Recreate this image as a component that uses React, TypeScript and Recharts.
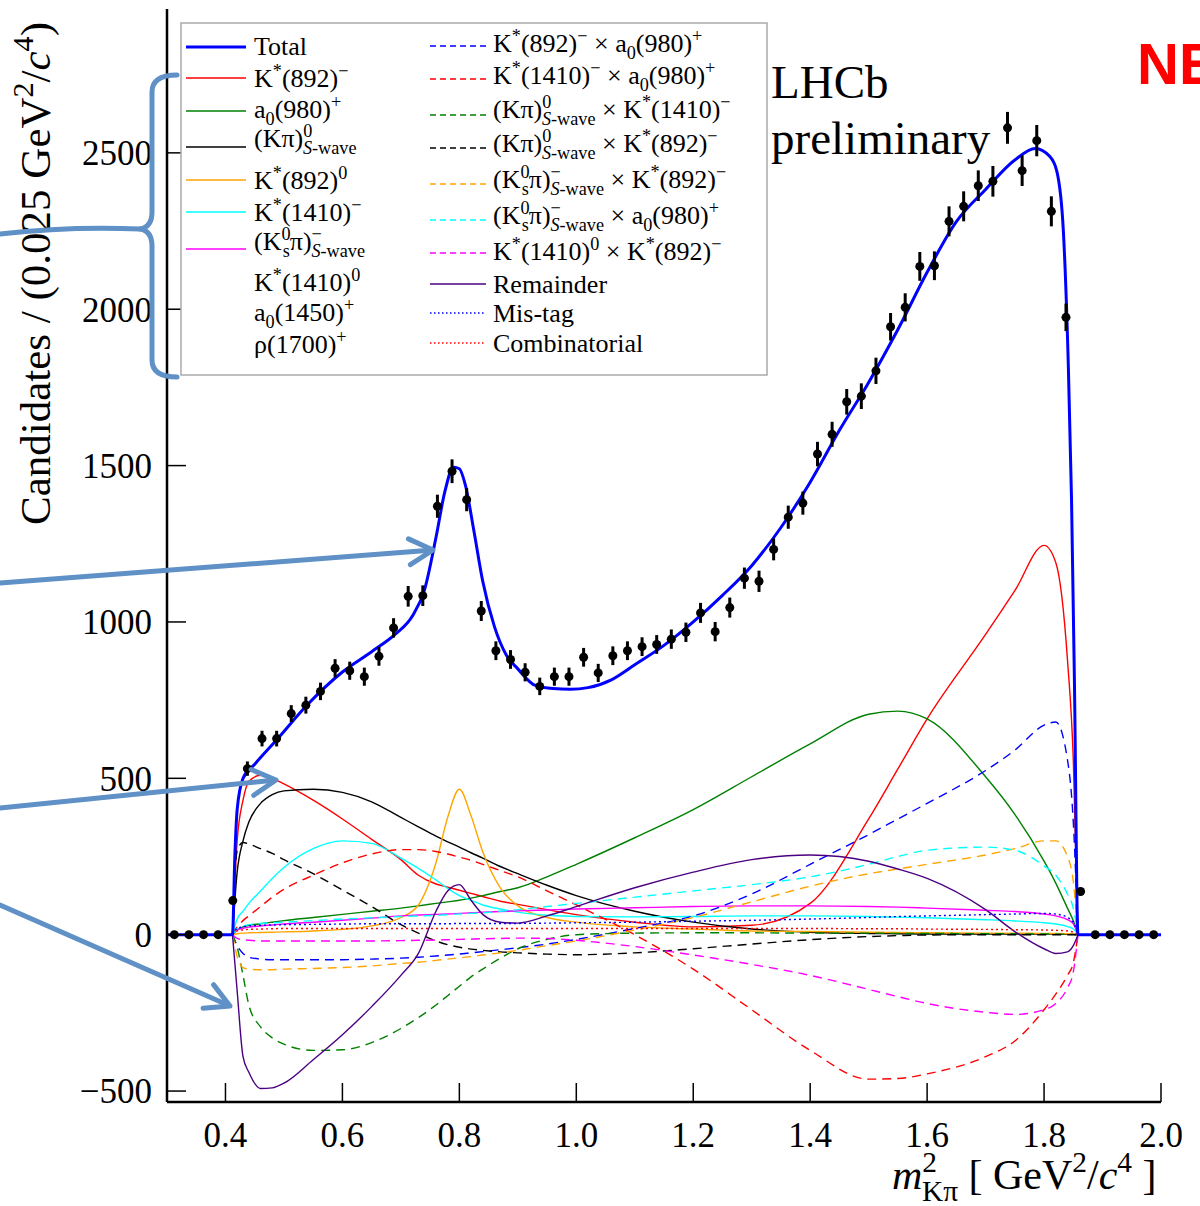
import React from 'react'
import { ComposedChart, Line, Scatter, ErrorBar, XAxis, YAxis } from 'recharts'

// histogram bin centres (m^2 in GeV^2/c^4)
const binCentres = [
  0.3125, 0.3375, 0.3625, 0.3875, 0.4125, 0.4375, 0.4625, 0.4875, 0.5125, 0.5375,
  0.5625, 0.5875, 0.6125, 0.6375, 0.6625, 0.6875, 0.7125, 0.7375, 0.7625, 0.7875,
  0.8125, 0.8375, 0.8625, 0.8875, 0.9125, 0.9375, 0.9625, 0.9875, 1.0125, 1.0375,
  1.0625, 1.0875, 1.1125, 1.1375, 1.1625, 1.1875, 1.2125, 1.2375, 1.2625, 1.2875,
  1.3125, 1.3375, 1.3625, 1.3875, 1.4125, 1.4375, 1.4625, 1.4875, 1.5125, 1.5375,
  1.5625, 1.5875, 1.6125, 1.6375, 1.6625, 1.6875, 1.7125, 1.7375, 1.7625, 1.7875,
  1.8125, 1.8375, 1.8625, 1.8875, 1.9125, 1.9375, 1.9625, 1.9875,
]
const candidates = [
  0, 0, 0, 0, 109, 531, 627, 627, 707, 734,
  778, 852, 844, 825, 890, 981, 1082, 1084, 1370, 1482,
  1391, 1035, 908, 880, 839, 794, 825, 825, 887, 837,
  892, 908, 921, 928, 945, 967, 1029, 969, 1046, 1140,
  1130, 1232, 1335, 1380, 1537, 1600, 1704, 1722, 1803, 1944,
  2006, 2137, 2139, 2281, 2329, 2395, 2409, 2580, 2443, 2539,
  2313, 1974, 138, 0, 0, 0, 0, 0,
]
const candErr = [
  0, 0, 0, 0, 10, 23, 25, 25, 27, 27,
  28, 29, 29, 29, 30, 31, 33, 33, 37, 38,
  37, 32, 30, 30, 29, 28, 29, 29, 30, 29,
  30, 30, 30, 30, 31, 31, 32, 31, 32, 34,
  34, 35, 37, 37, 39, 40, 41, 41, 42, 44,
  45, 46, 46, 48, 48, 49, 49, 51, 49, 50,
  48, 44, 12, 0, 0, 0, 0, 0,
]

// total fit
const totalX = [
  0.3, 0.412, 0.416, 0.42, 0.43, 0.45, 0.49, 0.54, 0.6, 0.65,
  0.69, 0.72, 0.74, 0.76, 0.775, 0.79, 0.8, 0.81, 0.825, 0.84,
  0.86, 0.88, 0.9, 0.93, 0.96, 0.99, 1.02, 1.06, 1.1, 1.15,
  1.2, 1.25, 1.3, 1.35, 1.4, 1.45, 1.5, 1.55, 1.6, 1.65,
  1.7, 1.75, 1.785, 1.81, 1.822, 1.833, 1.8415, 1.847, 1.852, 1.858, 2.0,
]
const totalY = [
  0, 0, 250, 400, 500, 545, 628, 735, 840, 905,
  960, 1020, 1100, 1270, 1415, 1495, 1490, 1440, 1290, 1130,
  985, 895, 850, 797, 787, 785, 790, 815, 863, 925,
  1000, 1085, 1180, 1302, 1447, 1613, 1766, 1935, 2118, 2280,
  2383, 2477, 2514, 2488, 2440, 2250, 1820, 1390, 800, 0, 0,
]

// fit components, all sampled on compX
const compX = [
  0.412, 0.42, 0.43, 0.44, 0.46, 0.48, 0.5, 0.55, 0.6, 0.65,
  0.7, 0.73, 0.76, 0.78, 0.8, 0.82, 0.84, 0.87, 0.9, 0.95,
  1.0, 1.1, 1.2, 1.3, 1.4, 1.5, 1.55, 1.6, 1.7, 1.75,
  1.8, 1.82, 1.84, 1.85, 1.858,
]
const kst892Minus = [
  0, 300, 430, 490, 510, 500, 482, 430, 370, 305,
  240, 190, 162, 152, 142, 132, 122, 107, 97, 80,
  64, 40, 25, 30, 100, 370, 530, 690, 960, 1100,
  1245, 1190, 880, 560, 0,
]
const a0980 = [
  0, 15, 25, 30, 35, 40, 45, 55, 65, 75,
  85, 92, 100, 105, 110, 117, 125, 138, 150, 185,
  225, 310, 400, 505, 610, 705, 715, 690, 505, 385,
  235, 165, 85, 45, 0,
]
const kpiSwave = [
  0, 200, 300, 360, 420, 448, 460, 465, 455, 425,
  375, 345, 315, 297, 280, 262, 245, 218, 195, 158,
  125, 75, 40, 18, 8, 4, 3, 2, 2, 2,
  2, 2, 1, 1, 0,
]
const kst892Zero = [
  0, 3, 5, 6, 7, 8, 9, 12, 17, 28,
  55, 95, 230, 375, 465, 380, 265, 150, 92, 55,
  40, 25, 18, 12, 10, 8, 7, 6, 5, 5,
  4, 4, 3, 2, 0,
]
const kst1410Minus = [
  0, 50, 75, 100, 140, 180, 215, 275, 300, 292,
  245, 212, 175, 148, 125, 110, 95, 82, 72, 62,
  58, 57, 58, 60, 60, 58, 56, 54, 48, 44,
  38, 34, 26, 18, 0,
]
const kspiSwave = [
  0, 15, 20, 24, 28, 31, 34, 40, 46, 53,
  60, 63, 65, 66, 68, 70, 72, 74, 76, 79,
  82, 86, 90, 92, 92, 90, 88, 85, 78, 74,
  66, 60, 48, 35, 0,
]
const intKst892A0 = [
  0, -35, -60, -72, -78, -80, -80, -80, -80, -78,
  -75, -72, -68, -65, -62, -58, -54, -48, -42, -30,
  -15, 20, 60, 130, 225, 320, 370, 420, 525, 590,
  670, 680, 560, 360, 0,
]
const intKst1410A0 = [
  0, 25, 45, 60, 90, 120, 145, 190, 230, 258,
  272, 272, 266, 258, 248, 238, 225, 205, 185, 140,
  95, 0, -110, -240, -370, -462, -460, -445, -390, -340,
  -240, -190, -130, -90, 0,
]
const intKpiKst1410 = [
  0, -40, -130, -225, -295, -330, -350, -370, -368, -345,
  -300, -265, -225, -195, -165, -135, -110, -75, -45, -15,
  0, 5, 6, 6, 5, 5, 4, 4, 3, 3,
  2, 2, 1, 1, 0,
]
const intKpiKst892 = [
  0, 270, 295, 290, 275, 260, 240, 195, 143, 90,
  32, 5, -20, -32, -40, -46, -50, -55, -58, -62,
  -64, -58, -45, -30, -16, -6, -3, -1, 0, 0,
  0, 0, 0, 0, 0,
]
const intKspiKst892 = [
  0, -70, -105, -110, -112, -112, -110, -108, -105, -100,
  -92, -88, -82, -78, -74, -70, -65, -58, -50, -35,
  -20, 15, 55, 105, 155, 195, 210, 225, 255, 275,
  300, 300, 250, 170, 0,
]
const intKspiA0 = [
  0, 20, 28, 32, 36, 38, 40, 45, 50, 54,
  58, 60, 62, 64, 66, 68, 70, 75, 80, 90,
  100, 120, 140, 160, 185, 225, 250, 270, 280, 270,
  220, 190, 130, 85, 0,
]
const intKst1410zKst892 = [
  0, -12, -16, -18, -20, -20, -20, -20, -20, -20,
  -19, -18, -17, -16, -15, -14, -13, -12, -11, -12,
  -18, -38, -65, -95, -130, -175, -198, -220, -248, -255,
  -240, -220, -170, -120, 0,
]
const remainder = [
  0, -180, -390, -440, -492, -490, -475, -400, -320, -230,
  -130, -60, 75, 140, 160, 110, 65, 40, 37, 60,
  90, 150, 200, 240, 255, 235, 210, 180, 80, 10,
  -45, -60, -55, -35, 0,
]
const misTag = [
  0, 20, 25, 28, 30, 31, 32, 33, 34, 35,
  35, 35, 35, 35, 36, 36, 36, 36, 36, 37,
  38, 40, 43, 46, 50, 55, 58, 60, 64, 66,
  68, 66, 55, 40, 0,
]
const combinatorial = [
  0, 12, 15, 17, 18, 19, 20, 20, 20, 20,
  20, 20, 20, 20, 20, 20, 20, 20, 20, 20,
  20, 20, 20, 20, 20, 19, 19, 18, 17, 16,
  15, 14, 12, 8, 0,
]

const xTicks = [0.4, 0.6, 0.8, 1.0, 1.2, 1.4, 1.6, 1.8, 2.0]
const yTicks = [-500, 0, 500, 1000, 1500, 2000, 2500]

const FONT = '"Liberation Serif", "Times New Roman", serif'
const ANN = '#5f90c6'
const DASH = '9 6'
const DOT = '2 3'

const components = [
  { id: 'kst892m', values: kst892Minus, color: '#ff0000' },
  { id: 'a0980', values: a0980, color: '#008000' },
  { id: 'kpiS', values: kpiSwave, color: '#000000' },
  { id: 'kst892z', values: kst892Zero, color: '#ffa500' },
  { id: 'kst1410m', values: kst1410Minus, color: '#00ffff' },
  { id: 'kspiS', values: kspiSwave, color: '#ff00ff' },
  { id: 'i1', values: intKst892A0, color: '#0000ff', dash: DASH },
  { id: 'i2', values: intKst1410A0, color: '#ff0000', dash: DASH },
  { id: 'i3', values: intKpiKst1410, color: '#008000', dash: DASH },
  { id: 'i4', values: intKpiKst892, color: '#000000', dash: DASH },
  { id: 'i5', values: intKspiKst892, color: '#ffa500', dash: DASH },
  { id: 'i6', values: intKspiA0, color: '#00ffff', dash: DASH },
  { id: 'i7', values: intKst1410zKst892, color: '#ff00ff', dash: DASH },
  { id: 'rem', values: remainder, color: '#4b0082' },
  { id: 'mis', values: misTag, color: '#0000ff', dash: DOT },
  { id: 'comb', values: combinatorial, color: '#ff0000', dash: DOT },
]

type Part = { t: string; k?: 'sup' | 'sub'; it?: boolean; back?: number }
const n = (t: string): Part => ({ t })
const sup = (t: string): Part => ({ t, k: 'sup' })
const sub = (t: string, back = 0, it = false): Part => ({ t, k: 'sub', back, it })
const kstar = (m: string, ch: string): Part[] => [n('K'), sup('*'), n(`(${m})`), sup(ch)]
const a0 = (m: string, ch: string): Part[] => [n('a'), sub('0'), n(`(${m})`), sup(ch)]
const kpiLabel: Part[] = [n('(Kπ)'), sup('0'), sub('S', 0.36, true), sub('-wave')]
const kspiLabel: Part[] = [n('(K'), sup('0'), sub('s', 0.3), n('π)'), sup('−'), sub('S', 0.4, true), sub('-wave')]
const x_ = n(' × ')

const legendLeft = [
  { parts: [n('Total')], color: '#0000ff', w: 3, ly: 47, ty: 55 },
  { parts: kstar('892', '−'), color: '#ff0000', ly: 78, ty: 87 },
  { parts: a0('980', '+'), color: '#008000', ly: 111, ty: 118 },
  { parts: kpiLabel, color: '#000000', ly: 147, ty: 147 },
  { parts: kstar('892', '0'), color: '#ffa500', ly: 180, ty: 189 },
  { parts: kstar('1410', '−'), color: '#00ffff', ly: 212, ty: 221 },
  { parts: kspiLabel, color: '#ff00ff', ly: 249, ty: 250 },
  { parts: kstar('1410', '0'), ty: 291 },
  { parts: a0('1450', '+'), ty: 321 },
  { parts: [n('ρ(1700)'), sup('+')], ty: 353 },
]
const legendRight = [
  { parts: [...kstar('892', '−'), x_, ...a0('980', '+')], color: '#0000ff', dash: '6 4', ly: 46, ty: 52 },
  { parts: [...kstar('1410', '−'), x_, ...a0('980', '+')], color: '#ff0000', dash: '6 4', ly: 79, ty: 84 },
  { parts: [...kpiLabel, x_, ...kstar('1410', '−')], color: '#008000', dash: '6 4', ly: 115, ty: 118 },
  { parts: [...kpiLabel, x_, ...kstar('892', '−')], color: '#000000', dash: '6 4', ly: 148, ty: 152 },
  { parts: [...kspiLabel, x_, ...kstar('892', '−')], color: '#ffa500', dash: '6 4', ly: 184, ty: 188 },
  { parts: [...kspiLabel, x_, ...a0('980', '+')], color: '#00ffff', dash: '6 4', ly: 220, ty: 224 },
  { parts: [...kstar('1410', '0'), x_, ...kstar('892', '−')], color: '#ff00ff', dash: '6 4', ly: 253, ty: 260 },
  { parts: [n('Remainder')], color: '#4b0082', ly: 284, ty: 293 },
  { parts: [n('Mis-tag')], color: '#0000ff', dash: '1.5 2.5', ly: 313, ty: 322 },
  { parts: [n('Combinatorial')], color: '#ff0000', dash: '1.5 2.5', ly: 343, ty: 352 },
]

function Rich({ x, y, parts, size, transform }: { x: number; y: number; parts: Part[]; size: number; transform?: string }) {
  let level = 0
  const kids = parts.map((p, i) => {
    const target = p.k === 'sup' ? -0.4 * size : p.k === 'sub' ? 0.28 * size : 0
    const dy = target - level
    level = target
    return (
      <tspan
        key={i}
        dy={dy || undefined}
        dx={p.back ? -p.back * size : undefined}
        fontSize={p.k ? size * 0.7 : size}
        fontStyle={p.it ? 'italic' : undefined}
      >
        {p.t}
      </tspan>
    )
  })
  return (
    <text x={x} y={y} fontSize={size} fontFamily={FONT} fill="#000" transform={transform} style={{ whiteSpace: 'pre' }}>
      {kids}
    </text>
  )
}

function Arrow({ x1, y1, x2, y2 }: { x1: number; y1: number; x2: number; y2: number }) {
  const ang = Math.atan2(y2 - y1, x2 - x1)
  const L = 27
  const s = 0.5
  const p1 = `${x2 - L * Math.cos(ang - s)},${y2 - L * Math.sin(ang - s)}`
  const p2 = `${x2 - L * Math.cos(ang + s)},${y2 - L * Math.sin(ang + s)}`
  return (
    <g stroke={ANN} strokeWidth={5} fill="none" strokeLinecap="round" strokeLinejoin="round">
      <line x1={x1} y1={y1} x2={x2 - 3 * Math.cos(ang)} y2={y2 - 3 * Math.sin(ang)} />
      <polyline points={`${p1} ${x2},${y2} ${p2}`} />
    </g>
  )
}

function Overlay() {
  return (
    <svg width={1200} height={1206} style={{ position: 'absolute', left: 0, top: 0, pointerEvents: 'none' }}>
      {/* legend */}
      <rect x={181} y={23} width={586} height={352} fill="#fff" stroke="#aaaaaa" strokeWidth={1.5} />
      {legendLeft.map((e, i) => (
        <g key={'l' + i}>
          {e.color && <line x1={186} x2={246} y1={e.ly} y2={e.ly} stroke={e.color} strokeWidth={e.w || 1.5} />}
          <Rich x={254} y={e.ty} parts={e.parts} size={26} />
        </g>
      ))}
      {legendRight.map((e, i) => (
        <g key={'r' + i}>
          <line x1={430} x2={486} y1={e.ly} y2={e.ly} stroke={e.color} strokeWidth={1.5} strokeDasharray={e.dash} />
          <Rich x={493} y={e.ty} parts={e.parts} size={26} />
        </g>
      ))}

      <text x={771} y={98} fontSize={47} fontFamily={FONT} fill="#000">LHCb</text>
      <text x={771} y={154} fontSize={47} fontFamily={FONT} fill="#000">preliminary</text>
      <text x={1137} y={84} fontSize={58} fontWeight="bold" fontFamily='"Liberation Sans", Arial, sans-serif' fill="#ff0000">NEW</text>

      <Rich
        x={50}
        y={525}
        size={43}
        transform="rotate(-90, 50, 525)"
        parts={[n('Candidates / (0.025 GeV'), sup('2'), n('/'), { t: 'c', it: true }, sup('4'), n(')')]}
      />
      <Rich
        x={892}
        y={1189}
        size={42}
        parts={[{ t: 'm', it: true }, sup('2'), sub('Kπ', 0.36), n(' [ GeV'), sup('2'), n('/'), { t: 'c', it: true }, sup('4'), n(' ]')]}
      />

      {/* hand-drawn annotations */}
      <g stroke={ANN} strokeWidth={5} fill="none" strokeLinecap="round" strokeLinejoin="round">
        <path d="M177,75 Q152,75 152,92 L152,212 Q152,227 140,229 Q152,231 152,246 L152,360 Q152,377 177,377" />
        <path d="M0,234 Q70,226 140,229" />
      </g>
      <Arrow x1={0} y1={583} x2={433} y2={550} />
      <Arrow x1={0} y1={808} x2={276} y2={780} />
      <Arrow x1={0} y1={905} x2={230} y2={1006} />
    </svg>
  )
}

const axisLine = { stroke: '#000', strokeWidth: 2.5 }
const tickLine = { stroke: '#000', strokeWidth: 1.5 }

function XTick(props: any) {
  return (
    <text x={props.x} y={props.y} dy="0.71em" textAnchor="middle" fontSize={35} fontFamily={FONT} fill="#000">
      {Number(props.payload.value).toFixed(1)}
    </text>
  )
}

function YTick(props: any) {
  const v = Number(props.payload.value)
  return (
    <text x={props.x} y={props.y} dy="0.355em" textAnchor="end" fontSize={35} fontFamily={FONT} fill="#000">
      {v < 0 ? '−' + Math.abs(v) : String(v)}
    </text>
  )
}

export default function App() {
  const totalData = totalX.map((x, i) => ({ x, y: totalY[i] }))
  const points = binCentres.map((x, i) => ({ x, y: candidates[i], err: candErr[i] }))

  return (
    <div style={{ position: 'absolute', left: 0, top: 0, width: 1200, height: 1206, background: '#fff' }}>
      <ComposedChart width={1200} height={1206} margin={{ top: 9, right: 39, bottom: 44, left: 0 }}>
        <XAxis
          xAxisId="b"
          type="number"
          dataKey="x"
          domain={[0.3, 2.0]}
          allowDataOverflow
          ticks={xTicks}
          interval={0}
          height={60}
          tickSize={-19}
          tickMargin={39}
          tick={<XTick />}
          axisLine={axisLine}
          tickLine={tickLine}
        />
        <XAxis
          xAxisId="t"
          orientation="top"
          type="number"
          dataKey="x"
          domain={[0.3, 2.0]}
          allowDataOverflow
          ticks={xTicks}
          interval={0}
          height={0}
          tickSize={-19}
          tick={false}
          axisLine={axisLine}
          tickLine={tickLine}
        />
        <YAxis
          yAxisId="l"
          type="number"
          domain={[-535, 2960]}
          allowDataOverflow
          ticks={yTicks}
          interval={0}
          width={167}
          tickSize={-19}
          tickMargin={34}
          tick={<YTick />}
          axisLine={axisLine}
          tickLine={tickLine}
        />
        <YAxis
          yAxisId="r"
          orientation="right"
          type="number"
          domain={[-535, 2960]}
          allowDataOverflow
          ticks={yTicks}
          interval={0}
          width={0}
          tickSize={-19}
          tick={false}
          axisLine={axisLine}
          tickLine={tickLine}
        />

        {components.map((c) => (
          <Line
            key={c.id}
            xAxisId="b"
            yAxisId="l"
            data={compX.map((x, i) => ({ x, y: c.values[i] }))}
            dataKey="y"
            type="monotone"
            stroke={c.color}
            strokeWidth={1.4}
            strokeDasharray={c.dash}
            dot={false}
            activeDot={false}
            isAnimationActive={false}
          />
        ))}
        <Line
          xAxisId="b"
          yAxisId="l"
          data={totalData}
          dataKey="y"
          type="monotone"
          stroke="#0000ff"
          strokeWidth={3}
          dot={false}
          activeDot={false}
          isAnimationActive={false}
        />
        <Scatter
          xAxisId="b"
          yAxisId="l"
          data={points}
          dataKey="y"
          isAnimationActive={false}
          shape={(p: any) => <circle cx={p.cx} cy={p.cy} r={4.5} fill="#000" />}
        >
          <ErrorBar dataKey="err" direction="y" width={0} strokeWidth={3} stroke="#000" isAnimationActive={false} />
        </Scatter>
      </ComposedChart>
      <Overlay />
    </div>
  )
}
